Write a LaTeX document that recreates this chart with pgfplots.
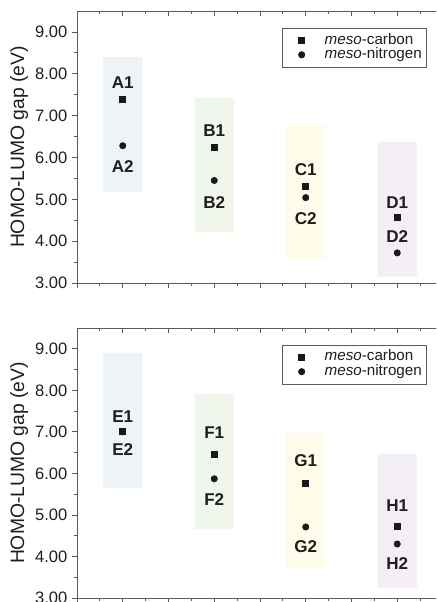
\documentclass[border=0pt]{standalone}
\usepackage{pgfplots}
\pgfplotsset{compat=1.18}
\usepackage{fontspec}
\setmainfont{Liberation Sans}
\definecolor{boxA}{HTML}{EEF3F8}
\definecolor{boxB}{HTML}{F0F6EC}
\definecolor{boxC}{HTML}{FDFDEA}
\definecolor{boxD}{HTML}{F4EFF7}
\definecolor{axgray}{HTML}{5A5A5A}
\definecolor{txt}{HTML}{1E1E1E}
\pgfplotsset{
  panel/.style={
    scale only axis, width=274.5pt,
    xmin=0, xmax=8, ymin=3, ymax=9.5,
    xtick={0,...,8}, xticklabels={}, minor x tick num=1,
    ytick={3,...,9}, minor y tick num=1,
    xtick pos=bottom, ytick pos=left, tick align=outside,
    major tick length=3.75pt, minor tick length=2.25pt,
    axis line style={axgray, line width=0.6pt},
    every tick/.style={axgray, line width=0.6pt},
    /pgf/number format/assume math mode=true,
    yticklabel style={/pgf/number format/.cd, fixed, fixed zerofill, precision=2, /tikz/.cd,
      font=\fontsize{12.4}{14}\selectfont, text=txt},
    ylabel={HOMO-LUMO gap (eV)},
    every axis y label/.style={at={(axis description cs:-0.158,0.5)}, rotate=90, anchor=center,
      font=\fontsize{14.5}{16}\selectfont, text=txt},
    legend style={at={(0.954,0.9375)}, anchor=north east, draw=axgray, line width=0.5pt,
      font=\fontsize{11.4}{13}\selectfont, text=txt, inner xsep=3pt, inner ysep=3.8pt,
      row sep=0pt, column sep=4.5pt,
      nodes={inner sep=0pt, text height=8pt, text depth=2.7pt}},
    legend image code/.code={\path[draw=none, fill=none] (0pt,0pt) -- (24pt,0pt); \draw[#1] plot coordinates {(11.25pt,0pt)};},
    legend cell align=left,
    clip=false,
  },
  topticks/.style={
    scale only axis, width=274.5pt,
    xmin=0, xmax=8, ymin=3, ymax=9.5,
    axis x line*=top, axis y line=none,
    xtick={0,...,8}, xticklabels={}, minor x tick num=1,
    tick align=inside,
    major tick length=3.75pt, minor tick length=2.25pt,
    axis line style={-, axgray, line width=0.6pt},
    every tick/.style={axgray, line width=0.6pt},
  },
  lbl/.style={only marks, mark=none, forget plot, nodes near coords, point meta=explicit symbolic,
    nodes near coords align=center,
    every node near coord/.style={font=\fontsize{12.8}{13}\selectfont\bfseries, text=txt}},
  carb/.style={only marks, mark=square*, mark size=2.25pt, color=black!90},
  nitr/.style={only marks, mark=*, mark size=2.4pt, color=black!90},
}
\pgfplotstableread{
x y label
1 7.80 A1
1 5.79 A2
3 6.63 B1
3 4.93 B2
5 5.70 C1
5 4.55 C2
7 4.93 D1
7 4.10 D2
}\labelsTop
\pgfplotstableread{
x y label
1 7.36 E1
1 6.57 E2
3 6.98 F1
3 5.36 F2
5 6.30 G1
5 4.23 G2
7 5.22 H1
7 3.84 H2
}\labelsBot
\begin{document}
\begin{tikzpicture}
\useasboundingbox (0,0) rectangle (327pt,-451.5pt);
\clip (0,0) rectangle (327pt,-451.5pt);
% ---------- top panel ----------
\begin{axis}[panel, at={(57.75pt,-212.25pt)}, anchor=south west, height=204pt]
\addplot[fill=boxA, draw=none, forget plot] coordinates {(0.57,5.18) (1.43,5.18) (1.43,8.40) (0.57,8.40) (0.57,5.18)};
\addplot[fill=boxB, draw=none, forget plot] coordinates {(2.57,4.21) (3.43,4.21) (3.43,7.42) (2.57,7.42) (2.57,4.21)};
\addplot[fill=boxC, draw=none, forget plot] coordinates {(4.57,3.57) (5.43,3.57) (5.43,6.80) (4.57,6.80) (4.57,3.57)};
\addplot[fill=boxD, draw=none, forget plot] coordinates {(6.57,3.15) (7.43,3.15) (7.43,6.37) (6.57,6.37) (6.57,3.15)};
\addplot[carb] coordinates {(1,7.40) (3,6.25) (5,5.30) (7,4.58)};
\addlegendentry{\textit{meso}-carbon}
\addplot[nitr] coordinates {(1,6.28) (3,5.45) (5,5.04) (7,3.72)};
\addlegendentry{\textit{meso}-nitrogen}
\addplot[lbl] table[x=x, y=y, meta=label] {\labelsTop};
\end{axis}
\begin{axis}[topticks, at={(57.75pt,-212.25pt)}, anchor=south west, height=204pt]
\end{axis}
% ---------- bottom panel ----------
\begin{axis}[panel, at={(57.75pt,-448.5pt)}, anchor=south west, height=202.5pt]
\addplot[fill=boxA, draw=none, forget plot] coordinates {(0.57,5.65) (1.43,5.65) (1.43,8.90) (0.57,8.90) (0.57,5.65)};
\addplot[fill=boxB, draw=none, forget plot] coordinates {(2.57,4.66) (3.43,4.66) (3.43,7.92) (2.57,7.92) (2.57,4.66)};
\addplot[fill=boxC, draw=none, forget plot] coordinates {(4.57,3.72) (5.43,3.72) (5.43,6.97) (4.57,6.97) (4.57,3.72)};
\addplot[fill=boxD, draw=none, forget plot] coordinates {(6.57,3.24) (7.43,3.24) (7.43,6.47) (6.57,6.47) (6.57,3.24)};
\addplot[carb] coordinates {(1,7.02) (3,6.47) (5,5.77) (7,4.73)};
\addlegendentry{\textit{meso}-carbon}
\addplot[nitr] coordinates {(1,7.00) (3,5.87) (5,4.71) (7,4.30)};
\addlegendentry{\textit{meso}-nitrogen}
\addplot[lbl] table[x=x, y=y, meta=label] {\labelsBot};
\end{axis}
\begin{axis}[topticks, at={(57.75pt,-448.5pt)}, anchor=south west, height=202.5pt]
\end{axis}
\end{tikzpicture}
\end{document}
